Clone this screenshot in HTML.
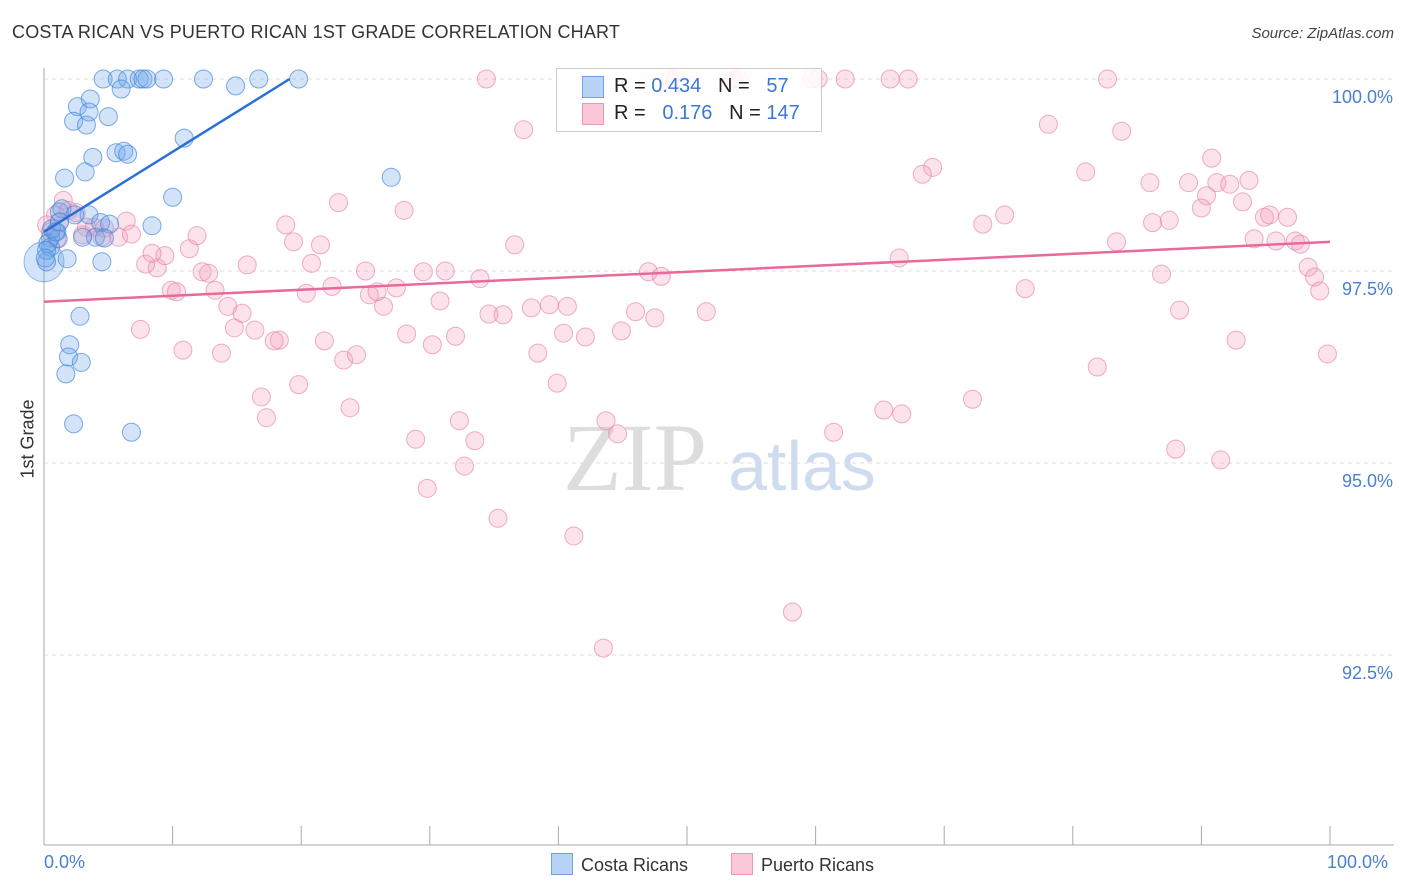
<!DOCTYPE html>
<html><head><meta charset="utf-8">
<style>
body{margin:0;background:#fff;font-family:"Liberation Sans",sans-serif;}
#wrap{position:relative;width:1406px;height:892px;overflow:hidden;}
.t{position:absolute;white-space:nowrap;}
</style></head><body>
<div id="wrap">
<div class="t" style="left:12px;top:22px;font-size:18px;color:#333;letter-spacing:0.2px">COSTA RICAN VS PUERTO RICAN 1ST GRADE CORRELATION CHART</div>
<div class="t" style="right:12px;top:25px;font-size:15px;color:#444;font-style:italic">Source: ZipAtlas.com</div>
<div class="t" style="left:0px;top:440px;font-size:18px;color:#333;transform:rotate(-90deg);transform-origin:center;width:56px;text-align:center">1st Grade</div>
<svg id="svg" width="1406" height="892" style="position:absolute;left:0;top:0"></svg>
</div>
<script>
const blueX=[4.6,5.7,6.5,7.4,7.7,8.0,9.3,12.4,16.7,19.8,6.0,14.9,2.6,3.6,3.5,2.3,3.3,5.0,10.9,3.8,5.6,6.2,6.5,3.2,1.6,10.0,27.0,1.2,1.4,3.5,4.4,5.1,8.4,2.4,1.0,0.5,0.5,0.3,4.0,4.7,1.1,0.6,1.8,4.5,2.8,2.0,1.9,2.9,1.7,2.3,6.8,0.2,0.2,0.9,0.1,1.2,3.0];
const blueY=[100,100,100,100,100,100,100,100,100,100,99.87,99.91,99.64,99.74,99.57,99.45,99.40,99.51,99.23,98.98,99.04,99.06,99.02,98.79,98.71,98.46,98.72,98.27,98.31,98.23,98.13,98.11,98.09,98.23,98.01,97.93,97.81,97.86,97.94,97.93,97.92,98.05,97.66,97.62,96.91,96.54,96.38,96.31,96.16,95.51,95.40,97.62,97.77,98.01,97.67,98.14,97.94];
const pinkX=[34.4,48.7,49.1,53.6,54.0,59.7,60.2,62.3,65.8,67.2,82.7,37.3,78.1,83.8,90.8,69.1,68.3,81.0,86.0,89.0,91.2,92.2,93.7,90.4,93.2,90.0,74.7,73.0,86.2,87.5,94.9,95.3,96.7,22.9,28.0,18.8,83.4,94.1,95.8,97.3,97.7,66.5,98.3,98.8,99.2,86.9,76.3,88.3,92.7,99.8,81.9,72.2,65.3,66.7,61.4,88.0,91.5,58.2,43.5,41.2,35.3,29.8,32.7,33.5,32.3,28.9,43.7,44.6,39.9,38.4,23.8,19.8,17.3,16.9,23.3,24.3,30.2,32.0,28.2,40.4,42.1,44.9,21.8,18.3,17.9,16.4,14.8,7.5,10.8,13.8,34.6,35.7,37.9,39.3,40.7,46.0,47.5,51.5,30.8,26.4,25.3,25.9,27.4,22.4,20.4,14.3,15.4,13.3,9.9,10.3,8.8,7.9,9.4,8.4,11.3,11.9,15.8,12.3,12.8,20.8,25.0,29.5,31.2,33.9,47.0,48.0,36.6,19.4,21.5,1.5,0.9,1.9,2.5,1.2,3.3,3.9,4.7,5.8,6.4,6.8,3.0,1.0,4.5,0.2,0.5];
const pinkY=[100,100,100,100,100,100,100,100,100,100,100,99.34,99.41,99.32,98.97,98.85,98.76,98.79,98.65,98.65,98.65,98.63,98.68,98.48,98.40,98.32,98.23,98.11,98.13,98.16,98.20,98.23,98.20,98.39,98.29,98.10,97.88,97.92,97.89,97.89,97.85,97.67,97.55,97.42,97.24,97.46,97.27,96.99,96.60,96.42,96.25,95.83,95.69,95.64,95.40,95.18,95.04,93.06,92.59,94.05,94.28,94.67,94.96,95.29,95.55,95.31,95.55,95.38,96.04,96.43,95.72,96.02,95.59,95.86,96.34,96.41,96.54,96.65,96.68,96.69,96.64,96.72,96.59,96.60,96.59,96.73,96.76,96.74,96.47,96.43,96.94,96.93,97.02,97.06,97.04,96.97,96.89,96.97,97.11,97.04,97.19,97.23,97.28,97.30,97.21,97.04,96.95,97.25,97.25,97.23,97.54,97.59,97.70,97.73,97.79,97.96,97.58,97.49,97.47,97.60,97.50,97.49,97.50,97.40,97.49,97.43,97.84,97.88,97.84,98.42,98.23,98.29,98.26,98.14,98.07,98.07,98.06,97.94,98.15,97.98,97.97,97.92,97.94,98.10,98.01];
const blueTrendX=[0,19.1], blueTrendY=[98.01,100];
const pinkTrendX=[0,100], pinkTrendY=[97.10,97.88];
const bigBlue=[0,97.62];
const yTicks=[100,97.5,95,92.5];
const yTickLabels=["100.0%","97.5%","95.0%","92.5%"];
const xTicks=[0,10,20,30,40,50,60,70,80,90,100];

const svg=document.getElementById('svg');const NS='http://www.w3.org/2000/svg';
const X0=44,X1=1330,Y100=79,PX_PER=76.8;
const sx=v=>X0+(X1-X0)*v/100;
const sy=v=>Y100+(100-v)*PX_PER;
function mk(t,a){const e=document.createElementNS(NS,t);for(const k in a)e.setAttribute(k,a[k]);svg.appendChild(e);return e;}
// grid
yTicks.forEach((v,i)=>{
 const g=mk('line',{x1:X0,x2:1394,y1:sy(v),y2:sy(v),stroke:'#ddd','stroke-dasharray':'4,4'});
 
 
 const t=mk('text',{x:1393,y:sy(v)+24,'text-anchor':'end','font-size':18,fill:'#4a7fd0','font-family':'Liberation Sans, sans-serif'});
 t.textContent=yTickLabels[i];
 
 
});
// axes
let a=mk('line',{x1:X0,x2:X0,y1:68,y2:845,stroke:'#aaa'});

a=mk('line',{x1:X0,x2:1394,y1:845,y2:845,stroke:'#aaa'});

xTicks.forEach(v=>{const l=mk('line',{x1:sx(v),x2:sx(v),y1:826,y2:845,stroke:'#aaa'});
 
 });
// watermark
let w=mk('text',{x:635,y:490,'text-anchor':'middle','font-size':96,fill:'#ddd','font-family':'Liberation Serif, serif'});w.textContent='ZIP';

w=mk('text',{x:802,y:490,'text-anchor':'middle','font-size':70,fill:'#cfdcf0','font-family':'Liberation Sans, sans-serif'});w.textContent='atlas';

// points
const bb=mk('circle',{cx:sx(bigBlue[0]),cy:sy(bigBlue[1]),r:20,fill:'rgba(110,165,235,0.3)',stroke:'rgba(80,140,220,0.6)'});

pinkX.forEach((x,i)=>{const c=mk('circle',{cx:sx(x),cy:sy(pinkY[i]),r:9,fill:'rgba(245,160,190,0.3)',stroke:'rgba(230,130,165,0.65)'});
 
 });
blueX.forEach((x,i)=>{const c=mk('circle',{cx:sx(x),cy:sy(blueY[i]),r:9,fill:'rgba(110,165,235,0.3)',stroke:'rgba(70,135,220,0.7)'});
 
 });
let tl=mk('line',{x1:sx(pinkTrendX[0]),y1:sy(pinkTrendY[0]),x2:sx(pinkTrendX[1]),y2:sy(pinkTrendY[1]),stroke:'#e8699a','stroke-width':2.5});

tl=mk('line',{x1:sx(blueTrendX[0]),y1:sy(blueTrendY[0]),x2:sx(blueTrendX[1]),y2:sy(blueTrendY[1]),stroke:'#2a6fd6','stroke-width':2.5});

</script>
<div style="position:absolute;left:556px;top:68px;width:264px;height:62px;border:1px solid #ccc;background:rgba(255,255,255,0.85);font-size:20px;color:#222">
 <div style="position:absolute;left:25px;top:7px;width:20px;height:20px;background:#b7d3f5;border:1px solid #6ea4e6"></div>
 <div class="t" style="left:57px;top:6px">R = <span style="color:#3a78d4">0.434</span>&nbsp;&nbsp;&nbsp;N =&nbsp;&nbsp;&nbsp;<span style="color:#3a78d4">57</span></div>
 <div style="position:absolute;left:25px;top:34px;width:20px;height:20px;background:#fac8d8;border:1px solid #ec97b4"></div>
 <div class="t" style="left:57px;top:33px">R =&nbsp;&nbsp;&nbsp;<span style="color:#3a78d4">0.176</span>&nbsp;&nbsp;&nbsp;N = <span style="color:#3a78d4">147</span></div>
</div>
<div class="t" style="left:44px;top:852px;font-size:18px;color:#4a7fd0">0.0%</div>
<div class="t" style="left:1327px;top:852px;font-size:18px;color:#4a7fd0">100.0%</div>
<div style="position:absolute;left:551px;top:853px;font-size:18px;color:#333">
 <span style="display:inline-block;width:20px;height:20px;background:#b7d3f5;border:1px solid #6ea4e6;vertical-align:-4px;margin-right:8px"></span>Costa Ricans</div>
<div style="position:absolute;left:731px;top:853px;font-size:18px;color:#333">
 <span style="display:inline-block;width:20px;height:20px;background:#fac8d8;border:1px solid #ec97b4;vertical-align:-4px;margin-right:8px"></span>Puerto Ricans</div>
</body></html>
